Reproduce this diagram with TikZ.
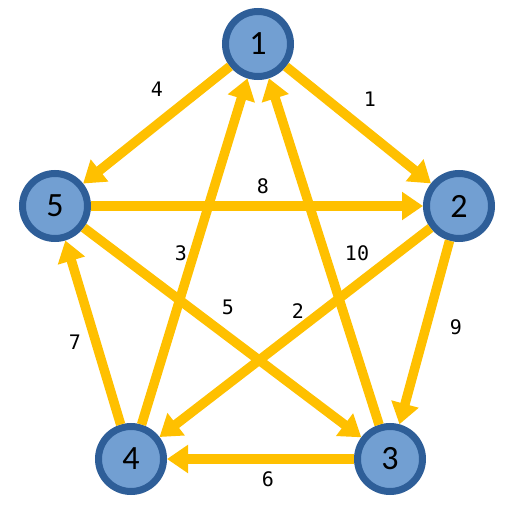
\documentclass[tikz,border=0pt]{standalone}
\usepackage{fontspec}
\setmainfont{Carlito}
\newfontfamily\monofont{DejaVu Sans Mono}
\usetikzlibrary{arrows.meta}
\definecolor{ringblue}{HTML}{2E5E98}
\definecolor{fillblue}{HTML}{729FD2}
\definecolor{edgegold}{HTML}{FFC000}
\tikzset{
  vertex/.style={circle,draw=ringblue,fill=fillblue,line width=7pt,
    minimum size=65pt,inner sep=0pt,font=\fontsize{34}{34}\selectfont},
  edge/.style={draw=edgegold,line width=9.5pt,
    -{Triangle[length=21pt,width=27pt]}},
  weight/.style={font=\monofont\fontsize{20}{20}\selectfont}
}
\begin{document}
\begin{tikzpicture}[x=1pt,y=-1pt]
        \useasboundingbox (0,0) rectangle (523,511);
        % Place vertices
        \node[vertex] (v1) at (258,44) {1};
        \node[vertex] (v2) at (459,206) {2};
        \node[vertex] (v3) at (390,459) {3};
        \node[vertex] (v4) at (131,459) {4};
        \node[vertex] (v5) at (55,206) {5};
        % Draw weighted arcs
        \draw[edge] (v1) -- (v2);
        \draw[edge] (v1) -- (v5);
        \draw[edge] (v5) -- (v2);
        \draw[edge] (v4) -- (v1);
        \draw[edge] (v3) -- (v1);
        \draw[edge] (v5) -- (v3);
        \draw[edge] (v2) -- (v4);
        \draw[edge] (v2) -- (v3);
        \draw[edge] (v4) -- (v5);
        \draw[edge] (v3) -- (v4);
        % Label weights
        \node[weight] (w12) at (370,99) {1};
        \node[weight] (w15) at (157,89) {4};
        \node[weight] (w52) at (263,186) {8};
        \node[weight] (w41) at (181,253) {3};
        \node[weight] (w31) at (357,253) {10};
        \node[weight] (w53) at (228,307) {5};
        \node[weight] (w24) at (298,311) {2};
        \node[weight] (w23) at (456,327) {9};
        \node[weight] (w45) at (75,342) {7};
        \node[weight] (w34) at (268,479) {6};
    \end{tikzpicture}
\end{document}
